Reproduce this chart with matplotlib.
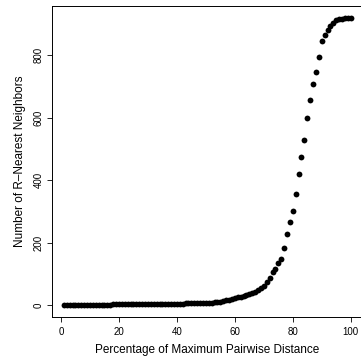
import numpy as np
import matplotlib
matplotlib.use("Agg")
import matplotlib.pyplot as plt

# percentage of maximum pairwise distance
pct = np.arange(1, 101)

# number of R-nearest neighbors
neighbors = [
    0, 0, 0, 0, 0, 0, 1, 1, 1, 1,
    1, 1, 1, 1, 1, 1, 1, 2, 2, 2,
    2, 2, 2, 2, 3, 3, 3, 3, 3, 3,
    3, 3, 3, 3, 4, 4, 4, 4, 4, 4,
    4, 4, 5, 5, 5, 5, 5, 5, 6, 6,
    7, 8, 9, 10, 11, 13, 15, 17, 19, 22,
    25, 27, 30, 32, 35, 38, 42, 47, 54, 62,
    75, 88, 105, 117, 134, 148, 184, 226, 266, 302,
    355, 419, 473, 529, 600, 656, 709, 747, 796, 847,
    866, 880, 894, 905, 912, 915, 918, 919, 920, 920,
]

x_ticks = [0, 20, 40, 60, 80, 100]
y_ticks = [0, 200, 400, 600, 800]

plt.rcParams["font.family"] = ["Liberation Sans", "DejaVu Sans"]

fig = plt.figure(figsize=(3.61, 3.57), dpi=100)
ax = fig.add_axes([0.1452, 0.1134, 0.8582, 0.8686])

ax.plot(pct, neighbors, "o", color="black", markersize=4.2, markeredgewidth=0)

# R style 4% padding around the data range
x_pad = (max(pct) - min(pct)) * 0.04
y_pad = (max(neighbors) - min(neighbors)) * 0.04
ax.set_xlim(min(pct) - x_pad, max(pct) + x_pad)
ax.set_ylim(min(neighbors) - y_pad, max(neighbors) + y_pad)

ax.set_xticks(x_ticks)
ax.set_yticks(y_ticks)
ax.tick_params(axis="both", labelsize=7, length=3.6, width=0.6)
ax.tick_params(axis="x", pad=4)
ax.tick_params(axis="y", pad=2.5)
plt.setp(ax.get_yticklabels(), rotation=90, va="center")

for s in ax.spines.values():
    s.set_linewidth(0.7)

ax.set_xlabel("Percentage of Maximum Pairwise Distance", fontsize=8.5, labelpad=5)
ax.set_ylabel("Number of R\u2013Nearest Neighbors", fontsize=8.5, labelpad=6)

fig.savefig("out.png", dpi=100)
